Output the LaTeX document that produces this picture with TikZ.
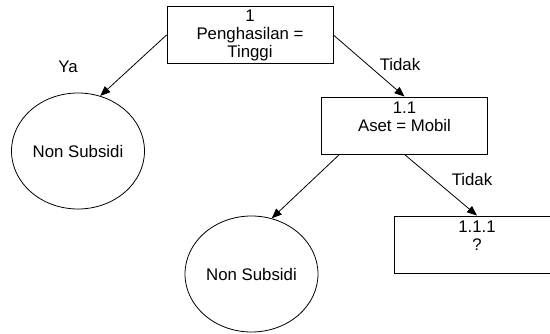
\documentclass[tikz,border=0pt]{standalone}
\usepackage{fontspec}
\setmainfont{Liberation Sans}
\usetikzlibrary{arrows.meta,shapes.geometric}

\begin{document}
\begin{tikzpicture}[x=1pt, y=-1pt,
	font=\fontsize{16.8}{18}\selectfont,
	kotak/.style={draw, line width=0.9pt, rectangle, minimum width=166pt, minimum height=57pt, inner sep=0pt, align=center},
	daun/.style={draw, line width=0.8pt, ellipse, minimum width=133pt, minimum height=116pt, inner sep=0pt},
	panah/.style={line width=0.8pt, -{Triangle[length=10pt,width=8pt]}}]
	\useasboundingbox (0, 0) rectangle (550, 334);
	% kotak keputusan
	\node[kotak] at (250, 35)      (n1)   {1\\Penghasilan =\\Tinggi};
	\node[kotak] at (404.5, 125.5) (n11)  {1.1\\Aset = Mobil\\~};
	\node[kotak] at (477, 244.5)   (n111) {1.1.1\\?\\~};
	% daun
	\node[daun] at (78, 151)       (ns1)  {Non Subsidi};
	\node[daun] at (251.5, 274)    (ns2)  {Non Subsidi};
	%
	\draw[panah] (n1.west) -- (ns1.68);
	\draw[panah] (n1.east) -- (n11.north);
	\draw[panah] (n11.204) -- (ns2.70);
	\draw[panah] (n11.south) -- (n111.north);
	\node[] at (68, 67)    (ya)     {Ya};
	\node[] at (400, 64)   (tidak1) {Tidak};
	\node[] at (472, 179)  (tidak2) {Tidak};
\end{tikzpicture}
\end{document}
